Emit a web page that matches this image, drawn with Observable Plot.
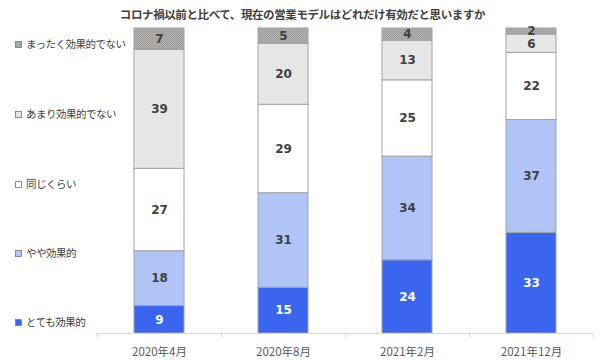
<!DOCTYPE html>
<html><head><meta charset="utf-8">
<script src="https://cdn.jsdelivr.net/npm/d3@7"></script>
<script src="https://cdn.jsdelivr.net/npm/@observablehq/plot@0.6"></script>
<style>
body{margin:0;background:#fff;}
#wrap{position:relative;width:605px;height:363px;font-family:"Noto Sans CJK JP",sans-serif;overflow:hidden;}
#title{height:26px;line-height:29px;text-align:center;font-size:11.5px;font-weight:bold;color:#404040;letter-spacing:-0.4px;white-space:nowrap;}
.lg{position:absolute;left:15px;height:16px;line-height:16px;font-size:10.5px;color:#404040;letter-spacing:-0.5px;white-space:nowrap;}
.sw{display:inline-block;width:5px;height:5px;border:1px solid #8c8c8c;margin-right:4px;vertical-align:middle;position:relative;top:-1px;}
</style>
</head><body>
<div id="wrap">
  <div id="title">コロナ禍以前と比べて、現在の営業モデルはどれだけ有効だと思いますか</div>
  <div id="legend"></div>
  <div id="chart"></div>
</div>
<script>
const titleText = "コロナ禍以前と比べて、現在の営業モデルはどれだけ有効だと思いますか";
const periods = ["2020年4月", "2020年8月", "2021年2月", "2021年12月"];
// stacking order: bottom to top
const categories = ["とても効果的", "やや効果的", "同じくらい", "あまり効果的でない", "まったく効果的でない"];
const totemo  = [9, 15, 24, 33];
const yaya    = [18, 31, 34, 37];
const onaji   = [27, 29, 25, 22];
const amari   = [39, 20, 13, 6];
const mattaku = [7, 5, 4, 2];

const seriesValues = [totemo, yaya, onaji, amari, mattaku];
const fills = ["#3a66ef", "#b0c4f8", "#ffffff", "url(#patLight)", "url(#patDark)"];
const swatchFills = ["#3a66ef", "#b0c4f8", "#ffffff", "#e4e4e4", "#a8a8a8"];

const data = [];
categories.forEach((c, ci) => {
  periods.forEach((p, pi) => data.push({cat: c, period: p, value: seriesValues[ci][pi]}));
});

// legend (top to bottom = reverse of stack order)
const legend = document.getElementById("legend");
const legendCenters = [44, 114, 184, 253, 322];
categories.slice().reverse().forEach((c, i) => {
  const ci = categories.indexOf(c);
  const d = document.createElement("div");
  d.className = "lg";
  d.style.top = (legendCenters[i] - 8) + "px";
  d.innerHTML = `<span class="sw" style="background:${swatchFills[ci]}"></span>${c}`;
  legend.appendChild(d);
});

const axisMark = (index, scales, values, dimensions) => {
  const {width, marginLeft, marginRight} = dimensions;
  const x = scales.x, y = scales.y;
  const bw = x.bandwidth ? x.bandwidth() : 0;
  const step = x.step ? x.step() : (width - marginLeft - marginRight) / periods.length;
  const y0 = Math.round(y(0)) + 0.5;
  const g = d3.create("svg:g").attr("stroke", "#d9d9d9").attr("stroke-width", 1);
  g.append("line").attr("x1", marginLeft).attr("x2", width - marginRight).attr("y1", y0).attr("y2", y0);
  const bounds = periods.map(p => x(p) + bw / 2 - step / 2);
  bounds.push(x(periods[periods.length - 1]) + bw / 2 + step / 2);
  bounds.forEach(b => {
    const bx = Math.round(b) + 0.5;
    g.append("line").attr("x1", bx).attr("x2", bx).attr("y1", y0).attr("y2", y0 + 4);
  });
  return g.node();
};

const isStrong = d => d.cat === categories[0];

const chart = Plot.plot({
  width: 605,
  height: 337,
  marginTop: 2,
  marginBottom: 30,
  marginLeft: 97,
  marginRight: 12,
  style: {fontFamily: '"Noto Sans CJK JP", sans-serif', fontSize: "11.5px", color: "#595959", background: "#fff", overflow: "visible"},
  x: {domain: periods, paddingInner: 0.6, paddingOuter: 0.3, label: null, tickSize: 0, tickPadding: 14},
  y: {domain: [0, 100], axis: null},
  color: {domain: categories, range: fills},
  marks: [
    Plot.barY(data, {x: "period", y: "value", fill: "cat", stroke: "#a3a3a3", strokeWidth: 1}),
    axisMark,
    Plot.text(data, Plot.stackY({x: "period", y: "value", z: "cat",
      text: d => isStrong(d) ? null : String(d.value),
      fill: "#404040", fontWeight: "bold", fontSize: 12, fontFamily: "DejaVu Sans"})),
    Plot.text(data, Plot.stackY({x: "period", y: "value", z: "cat",
      text: d => isStrong(d) ? String(d.value) : null,
      fill: "#ffffff", fontWeight: "bold", fontSize: 12, fontFamily: "DejaVu Sans"}))
  ]
});

// patterns for the gray categories
const svg = d3.select(chart.tagName.toLowerCase() === "svg" ? chart : chart.querySelector("svg"));
const defs = svg.insert("defs", ":first-child");
const pd = defs.append("pattern").attr("id", "patDark").attr("width", 2).attr("height", 2).attr("patternUnits", "userSpaceOnUse");
pd.append("rect").attr("width", 2).attr("height", 2).attr("fill", "#b2b2b2");
pd.append("rect").attr("width", 1).attr("height", 1).attr("fill", "#999999");
pd.append("rect").attr("x", 1).attr("y", 1).attr("width", 1).attr("height", 1).attr("fill", "#9e9e9e");
const pl = defs.append("pattern").attr("id", "patLight").attr("width", 2).attr("height", 2).attr("patternUnits", "userSpaceOnUse");
pl.append("rect").attr("width", 2).attr("height", 2).attr("fill", "#f1f1f1");
pl.append("rect").attr("width", 1).attr("height", 1).attr("fill", "#d9d9d9");
pl.append("rect").attr("x", 1).attr("y", 1).attr("width", 1).attr("height", 1).attr("fill", "#e0e0e0");

document.getElementById("chart").appendChild(chart);
</script>
</body></html>
